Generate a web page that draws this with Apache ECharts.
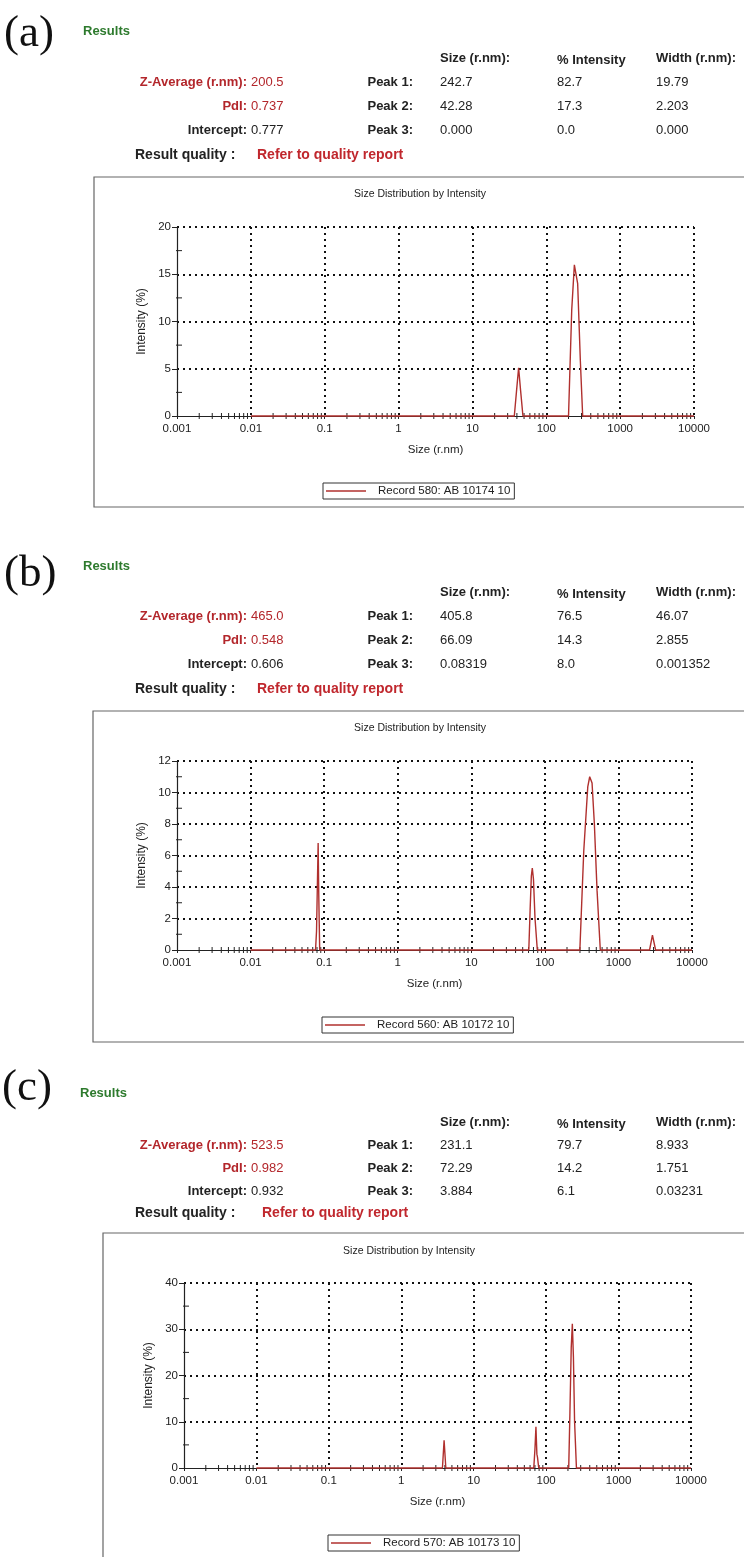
<!DOCTYPE html>
<html><head><meta charset="utf-8">
<script src="https://cdn.jsdelivr.net/npm/echarts@6/dist/echarts.min.js"></script>
<style>html,body{margin:0;padding:0;background:#fff}#c{width:744px;height:1557px}</style>
</head><body><div id="c"></div>
<script>
// ---------- data ----------
const xTickLabels = ['0.001','0.01','0.1','1','10','100','1000','10000'];
const yTicksA = [0, 5, 10, 15, 20];
const yTicksB = [0, 2, 4, 6, 8, 10, 12];
const yTicksC = [0, 10, 20, 30, 40];
const yMinorA = [2.5, 7.5, 12.5, 17.5];
const yMinorB = [1, 3, 5, 7, 9, 11];
const yMinorC = [5, 15, 25, 35];
const xMinorTicks = [];
for (let e = -3; e <= 3; e++) for (let k = 2; k <= 9; k++) xMinorTicks.push(+(k * Math.pow(10, e)).toPrecision(3));

const panelLabels = ['(a)', '(b)', '(c)'];
const zAverage = ['200.5', '465.0', '523.5'];
const pdi = ['0.737', '0.548', '0.982'];
const intercept = ['0.777', '0.606', '0.932'];
const peakSizes = [['242.7','42.28','0.000'], ['405.8','66.09','0.08319'], ['231.1','72.29','3.884']];
const peakIntensity = [['82.7','17.3','0.0'], ['76.5','14.3','8.0'], ['79.7','14.2','6.1']];
const peakWidth = [['19.79','2.203','0.000'], ['46.07','2.855','0.001352'], ['8.933','1.751','0.03231']];
const records = ['Record 580: AB 10174 10', 'Record 560: AB 10172 10', 'Record 570: AB 10173 10'];

const sizeA = [0.01, 36.9, 39.5, 42.2, 45, 48.3, 200, 221, 240, 246, 266, 289, 311, 10000];
const intA  = [0, 0, 2.6, 5.1, 2.6, 0, 0, 11.2, 16.0, 16.2, 14.0, 5.9, 0, 0];
const sizeB = [0.01, 0.0764, 0.0788, 0.0829, 0.0845, 0.0870, 60.5, 63, 65.5, 67.5, 70, 73.5, 79, 299, 338, 383, 407, 438, 471, 512, 567, 2650, 2900, 3200, 10000];
const intB  = [0, 0, 1.2, 6.8, 3.5, 0, 0, 2.5, 4.7, 5.2, 4.5, 2.0, 0, 0, 6.3, 10.35, 11.0, 10.6, 8.0, 3.8, 0, 0, 0.95, 0, 0];
const sizeC = [0.01, 3.70, 3.90, 4.12, 67.5, 70, 72.3, 74.5, 76, 79, 205, 213, 222, 230, 238, 247, 262, 10000];
const intC  = [0, 0, 6.0, 0, 0, 4.0, 8.9, 3.0, 2.3, 0, 0, 12, 26, 31.2, 24, 10, 0, 0];

// ---------- layout ----------
const F = '"Liberation Sans", Arial, Helvetica, sans-serif';
const RED = '#b3262b', GREEN = '#2d7a2d', INK = '#222', LINE = '#b0302e';
const L = [
  {lab:[4,34], res:[83,31], head:58, rows:[82,106,130], rq:155, rqX:[135,257], box:[94,177,330], title:[420,194],
   grid:{left:177, top:227, width:517, height:189}, legend:{left:323, top:483}},
  {lab:[4,574], res:[83,566], head:592, rows:[616,640,664], rq:689, rqX:[135,257], box:[93,711,331], title:[420,728],
   grid:{left:177, top:761, width:515, height:189}, legend:{left:322, top:1017}},
  {lab:[2,1088], res:[80,1093], head:1122, rows:[1145,1168,1191], rq:1213, rqX:[135,262], box:[103,1233,400], title:[409,1251],
   grid:{left:184, top:1283, width:507, height:185}, legend:{left:328, top:1535}}
];
const yTicks = [yTicksA, yTicksB, yTicksC];
const yMinor = [yMinorA, yMinorB, yMinorC];
const sizes = [sizeA, sizeB, sizeC];
const ints = [intA, intB, intC];

function txt(x, y, text, o) {
  return {type:'text', x:x, y:y, silent:true, z:10,
    style:Object.assign({text:text, fill:INK, font:'13px ' + F, align:'left', verticalAlign:'middle'}, o || {})};
}
const B = 'bold 13px ' + F, R = '13px ' + F;
const graphics = [];
L.forEach((p, i) => {
  graphics.push({type:'rect', silent:true, z:0, shape:{x:p.box[0], y:p.box[1], width:760, height:p.box[2]},
    style:{fill:'none', stroke:'#666', lineWidth:1.2}});
  graphics.push(txt(p.lab[0], p.lab[1], panelLabels[i], {font:'45px "Liberation Serif", "Times New Roman", serif', fill:'#111'}));
  graphics.push(txt(p.res[0], p.res[1], 'Results', {font:B, fill:GREEN}));
  graphics.push(txt(440, p.head, 'Size (r.nm):', {font:B}));
  graphics.push(txt(557, p.head + 2, '% Intensity', {font:B}));
  graphics.push(txt(656, p.head, 'Width (r.nm):', {font:B}));
  graphics.push(txt(247, p.rows[0], 'Z-Average (r.nm):', {font:B, fill:RED, align:'right'}));
  graphics.push(txt(251, p.rows[0], zAverage[i], {font:R, fill:RED}));
  graphics.push(txt(247, p.rows[1], 'PdI:', {font:B, fill:RED, align:'right'}));
  graphics.push(txt(251, p.rows[1], pdi[i], {font:R, fill:RED}));
  graphics.push(txt(247, p.rows[2], 'Intercept:', {font:B, align:'right'}));
  graphics.push(txt(251, p.rows[2], intercept[i], {font:R}));
  for (let k = 0; k < 3; k++) {
    graphics.push(txt(413, p.rows[k], 'Peak ' + (k + 1) + ':', {font:B, align:'right'}));
    graphics.push(txt(440, p.rows[k], peakSizes[i][k], {font:R}));
    graphics.push(txt(557, p.rows[k], peakIntensity[i][k], {font:R}));
    graphics.push(txt(656, p.rows[k], peakWidth[i][k], {font:R}));
  }
  graphics.push(txt(p.rqX[0], p.rq, 'Result quality :', {font:'bold 14px ' + F}));
  graphics.push(txt(p.rqX[1], p.rq, 'Refer to quality report', {font:'bold 14px ' + F, fill:'#c0272d'}));
  graphics.push(txt(p.title[0], p.title[1], 'Size Distribution by Intensity', {font:'10.5px ' + F, align:'center'}));
});

const grids = [], xAxes = [], yAxes = [], series = [], legends = [];
const dotted = {color:'#111', width:2, type:[2, 4], cap:'butt'};
L.forEach((p, i) => {
  grids.push(Object.assign({outerBoundsMode:'none', containLabel:false}, p.grid));
  xAxes.push({type:'log', logBase:10, gridIndex:i, min:0.001, max:10000, splitNumber:7,
    axisLine:{show:true, onZero:false, lineStyle:{color:INK, width:1.2}},
    axisTick:{show:true, inside:false, length:3, lineStyle:{color:INK}},
    axisLabel:{formatter:v => xTickLabels[Math.round(Math.log10(v)) + 3], fontSize:11.5, color:INK, margin:7, fontFamily:F},
    splitLine:{show:true, showMinLine:false, lineStyle:dotted},
    name:'Size (r.nm)', nameLocation:'middle', nameGap:28, nameTextStyle:{fontSize:11.5, color:INK, fontFamily:F}});
  const yt = yTicks[i];
  yAxes.push({type:'value', gridIndex:i, min:yt[0], max:yt[yt.length - 1], interval:yt[1] - yt[0],
    axisLine:{show:true, onZero:false, lineStyle:{color:INK, width:1.2}},
    axisTick:{show:true, inside:false, length:5, lineStyle:{color:INK}},
    axisLabel:{fontSize:11.5, color:INK, margin:6, fontFamily:F},
    splitLine:{show:true, showMinLine:false, lineStyle:dotted},
    name:'Intensity (%)', nameLocation:'middle', nameRotate:90, nameGap:i === 2 ? 29 : 27,
    nameTextStyle:{fontSize:12, color:INK, fontFamily:F}});
  series.push({type:'line', name:records[i], xAxisIndex:i, yAxisIndex:i, symbol:'none', showSymbol:false,
    data:sizes[i].map((s, k) => [s, ints[i][k]]), lineStyle:{color:LINE, width:1.4}, itemStyle:{color:LINE},
    z:5, animation:false, clip:false});
  series.push({type:'custom', name:'xminor' + i, xAxisIndex:i, yAxisIndex:i, silent:true, z:3, animation:false,
    data:xMinorTicks.map(v => [v, 0]),
    renderItem:(prm, api) => { const c = api.coord([api.value(0), 0]);
      return {type:'line', shape:{x1:c[0], y1:c[1] - 3, x2:c[0], y2:c[1] + 3}, style:{stroke:INK, lineWidth:1}}; }});
  series.push({type:'custom', name:'yminor' + i, xAxisIndex:i, yAxisIndex:i, silent:true, z:3, animation:false,
    data:yMinor[i].map(v => [0.001, v]),
    renderItem:(prm, api) => { const c = api.coord([api.value(0), api.value(1)]);
      return {type:'line', shape:{x1:c[0] - 1, y1:c[1], x2:c[0] + 5, y2:c[1]}, style:{stroke:INK, lineWidth:1}}; }});
  legends.push({left:p.legend.left, top:p.legend.top, orient:'horizontal',
    data:[{name:records[i], icon:'rect', itemStyle:{color:LINE, borderWidth:0}}],
    borderColor:'#333', borderWidth:1, borderRadius:0, padding:[2, 4, 2, 3], itemWidth:40, itemHeight:1.6,
    selectedMode:false, textStyle:{fontSize:11.5, color:INK, fontFamily:F, padding:[0, 0, 0, 7]}});
});

const chart = echarts.init(document.getElementById('c'), null, {renderer:'canvas'});
chart.setOption({
  backgroundColor:'#fff', animation:false,
  textStyle:{fontFamily:F},
  grid:grids, xAxis:xAxes, yAxis:yAxes, series:series, legend:legends,
  graphic:graphics
});
</script></body></html>
